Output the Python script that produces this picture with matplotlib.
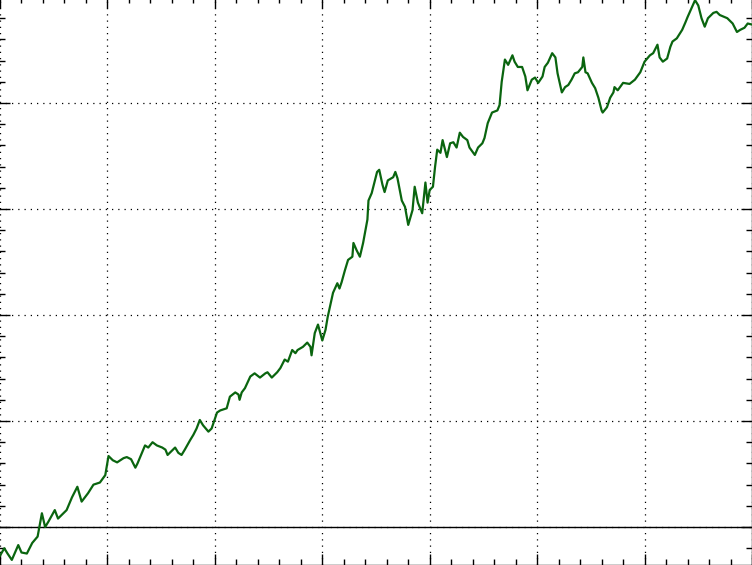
import matplotlib
matplotlib.use("Agg")
import matplotlib.pyplot as plt
from matplotlib.ticker import MultipleLocator, AutoMinorLocator, NullFormatter

x = [0.00, 0.04, 0.07, 0.11, 0.17, 0.20, 0.25, 0.30, 0.35, 0.39, 0.42, 0.45, 0.51, 0.54, 0.62,
     0.67, 0.72, 0.76, 0.82, 0.87, 0.93, 0.98, 1.01, 1.05, 1.09, 1.12, 1.15, 1.18, 1.22, 1.26,
     1.28, 1.35, 1.38, 1.42, 1.46, 1.51, 1.54, 1.56, 1.61, 1.63, 1.66, 1.69, 1.72, 1.77, 1.80,
     1.83, 1.86, 1.89, 1.94, 1.97, 2.02, 2.05, 2.11, 2.14, 2.19, 2.22, 2.23, 2.25, 2.28, 2.33,
     2.37, 2.42, 2.47, 2.49, 2.53, 2.58, 2.61, 2.65, 2.68, 2.72, 2.75, 2.77, 2.82, 2.86, 2.89,
     2.90, 2.93, 2.96, 3.00, 3.03, 3.05, 3.10, 3.14, 3.16, 3.18, 3.21, 3.24, 3.28, 3.29, 3.32,
     3.35, 3.38, 3.42, 3.43, 3.46, 3.49, 3.51, 3.53, 3.56, 3.58, 3.61, 3.66, 3.68, 3.70, 3.74,
     3.77, 3.80, 3.84, 3.86, 3.89, 3.93, 3.96, 3.98, 4.00, 4.03, 4.05, 4.07, 4.10, 4.12, 4.16,
     4.19, 4.22, 4.25, 4.28, 4.31, 4.35, 4.37, 4.42, 4.45, 4.49, 4.51, 4.54, 4.58, 4.63, 4.65,
     4.67, 4.70, 4.73, 4.77, 4.79, 4.82, 4.86, 4.89, 4.91, 4.95, 4.98, 5.01, 5.05, 5.07, 5.10,
     5.14, 5.17, 5.19, 5.23, 5.26, 5.29, 5.32, 5.35, 5.38, 5.42, 5.43, 5.45, 5.47, 5.51, 5.54,
     5.57, 5.60, 5.61, 5.65, 5.68, 5.71, 5.72, 5.75, 5.80, 5.86, 5.91, 5.96, 6.00, 6.05, 6.08,
     6.12, 6.14, 6.17, 6.21, 6.24, 6.26, 6.30, 6.35, 6.38, 6.40, 6.44, 6.47, 6.50, 6.53, 6.56,
     6.59, 6.64, 6.67, 6.70, 6.77, 6.82, 6.86, 6.89, 6.93, 6.96, 7.00]

y = [-0.27, -0.20, -0.25, -0.31, -0.17, -0.24, -0.25, -0.15, -0.09, 0.13, 0.00, 0.05, 0.16, 0.08, 0.16,
     0.28, 0.38, 0.24, 0.32, 0.40, 0.42, 0.49, 0.67, 0.63, 0.61, 0.63, 0.65, 0.66, 0.64, 0.56,
     0.60, 0.77, 0.75, 0.80, 0.77, 0.75, 0.73, 0.68, 0.73, 0.75, 0.70, 0.68, 0.73, 0.82, 0.87,
     0.93, 1.01, 0.96, 0.90, 0.93, 1.08, 1.10, 1.12, 1.23, 1.27, 1.25, 1.20, 1.27, 1.31, 1.42,
     1.45, 1.41, 1.45, 1.46, 1.41, 1.46, 1.50, 1.58, 1.56, 1.67, 1.64, 1.67, 1.70, 1.74, 1.70,
     1.62, 1.83, 1.91, 1.76, 1.86, 1.98, 2.21, 2.30, 2.25, 2.31, 2.42, 2.52, 2.55, 2.68, 2.61,
     2.55, 2.68, 2.90, 3.08, 3.15, 3.27, 3.35, 3.37, 3.23, 3.16, 3.27, 3.30, 3.35, 3.29, 3.08,
     3.02, 2.85, 2.99, 3.21, 3.06, 2.96, 3.25, 3.06, 3.18, 3.21, 3.40, 3.56, 3.53, 3.65, 3.49,
     3.62, 3.63, 3.58, 3.72, 3.68, 3.65, 3.58, 3.51, 3.58, 3.62, 3.67, 3.81, 3.91, 3.93, 3.98,
     4.20, 4.41, 4.36, 4.45, 4.39, 4.34, 4.34, 4.25, 4.12, 4.22, 4.24, 4.19, 4.25, 4.34, 4.38,
     4.47, 4.43, 4.28, 4.10, 4.15, 4.17, 4.22, 4.28, 4.29, 4.34, 4.43, 4.29, 4.28, 4.19, 4.14,
     4.05, 3.93, 3.91, 3.96, 4.05, 4.10, 4.15, 4.12, 4.19, 4.18, 4.22, 4.29, 4.39, 4.45, 4.47,
     4.55, 4.43, 4.39, 4.42, 4.53, 4.58, 4.61, 4.69, 4.76, 4.81, 4.90, 4.97, 4.92, 4.80, 4.72,
     4.80, 4.85, 4.86, 4.83, 4.80, 4.75, 4.67, 4.69, 4.71, 4.75, 4.74]

W, H = 752, 565
fig = plt.figure(figsize=(W / 100, H / 100), dpi=100)
# axes extend slightly past the left and top edges of the canvas
ax = fig.add_axes([-1.5 / W, 0, (W + 1.5) / W, (H + 3) / H])

ax.plot(x, y, color="#0a650f", lw=1.6, zorder=3)
ax.axhline(0, color="black", lw=1.0, zorder=2)

ax.set_xlim(-0.014, 7.0)
ax.set_ylim(-0.358, 5.0)

ax.xaxis.set_major_locator(MultipleLocator(1))
ax.yaxis.set_major_locator(MultipleLocator(1))
ax.xaxis.set_minor_locator(AutoMinorLocator(5))
ax.yaxis.set_minor_locator(AutoMinorLocator(5))
ax.xaxis.set_major_formatter(NullFormatter())
ax.yaxis.set_major_formatter(NullFormatter())

ax.tick_params(which="major", direction="in", length=8, width=1, top=True, right=True,
               bottom=True, left=True)
ax.tick_params(which="minor", direction="in", length=4, width=1, top=True, right=True,
               bottom=True, left=True)

ax.grid(True, which="major", color="black", linestyle=(0, (1, 4)), lw=0.9)

for s in ax.spines.values():
    s.set_linewidth(1.0)

fig.savefig("out.png", dpi=100)
